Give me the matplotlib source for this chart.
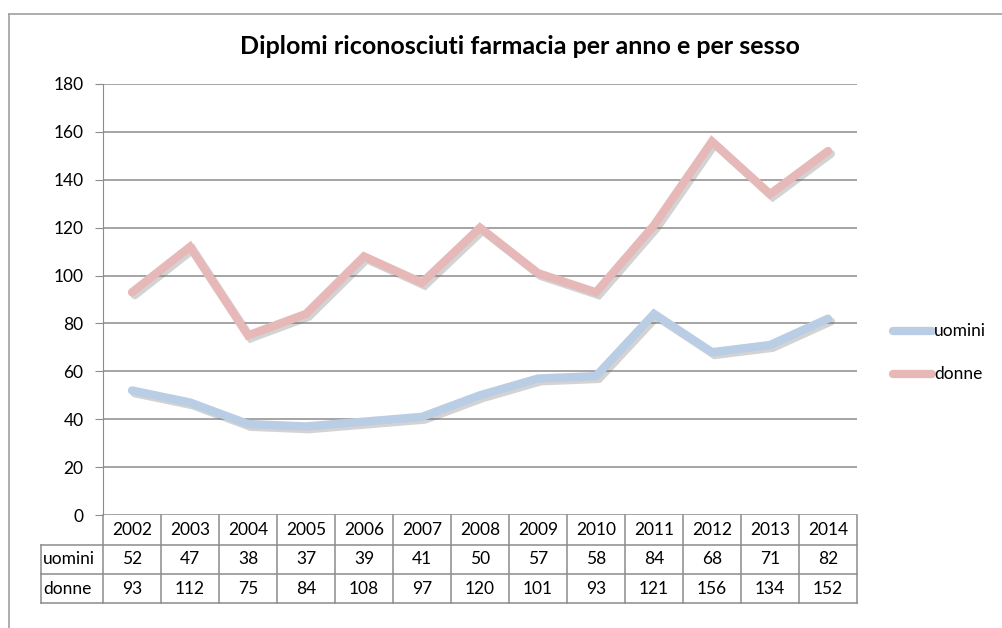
import matplotlib
matplotlib.use("Agg")
import matplotlib.pyplot as plt
import matplotlib.patheffects as pe
from matplotlib.lines import Line2D
from matplotlib.transforms import blended_transform_factory

plt.rcParams["font.family"] = ["Lato", "DejaVu Sans"]

# data
years = [2002, 2003, 2004, 2005, 2006, 2007, 2008, 2009, 2010, 2011, 2012, 2013, 2014]
uomini = [52, 47, 38, 37, 39, 41, 50, 57, 58, 84, 68, 71, 82]
donne = [93, 112, 75, 84, 108, 97, 120, 101, 93, 121, 156, 134, 152]
series_names = ["uomini", "donne"]
yticks = [0, 20, 40, 60, 80, 100, 120, 140, 160, 180]

COL_U = "#B9CDE5"
COL_D = "#E6B9B8"
GRID = "#8C8C8C"
FS = 12.5

W, H = 1003, 628
fig = plt.figure(figsize=(W / 100, H / 100), dpi=100)

# outer chart frame (Excel chart area border)
fig.add_artist(Line2D([9 / W, 9 / W], [0, 1 - 14 / H], color="#A0A0A0", lw=1.2))
fig.add_artist(Line2D([9 / W, 1], [1 - 14 / H, 1 - 14 / H], color="#A0A0A0", lw=1.2))

# plot area in pixels
L, R, T, B = 103, 857, 84, 515
ax = fig.add_axes([L / W, 1 - B / H, (R - L) / W, (B - T) / H])

x = list(range(len(years)))
shadow = [pe.SimpleLineShadow(offset=(2, -2), shadow_color="#707070", alpha=0.3),
          pe.Normal()]
ax.plot(x, uomini, color=COL_U, lw=6, solid_joinstyle="miter", solid_capstyle="round",
        path_effects=shadow, zorder=3)
ax.plot(x, donne, color=COL_D, lw=6, solid_joinstyle="miter", solid_capstyle="round",
        path_effects=shadow, zorder=3)

ax.set_xlim(-0.5, len(years) - 0.5)
ax.set_ylim(0, 180)
ax.set_yticks(yticks)
ax.set_yticklabels([str(v) for v in yticks], fontsize=FS)
ax.set_xticks([])
ax.grid(axis="y", color=GRID, lw=1.1)
ax.set_axisbelow(True)
for s in ["top", "right", "bottom"]:
    ax.spines[s].set_visible(False)
ax.spines["left"].set_color(GRID)
ax.tick_params(axis="y", length=6, color=GRID, pad=8, direction="out")

fig.text(520 / W, 1 - 47 / H, "Diplomi riconosciuti farmacia per anno e per sesso",
         ha="center", va="center", fontsize=18, fontweight="bold")

# data table below the plot area
tr = blended_transform_factory(ax.transData, fig.transFigure)
rows_y = [515, 545, 574, 603]
fy = [1 - v / H for v in rows_y]
lkw = dict(color=GRID, lw=1.1, transform=fig.transFigure, clip_on=False)
# horizontal lines
fig.add_artist(Line2D([41 / W, R / W], [fy[1], fy[1]], **lkw))
fig.add_artist(Line2D([41 / W, R / W], [fy[2], fy[2]], **lkw))
fig.add_artist(Line2D([41 / W, R / W], [fy[3], fy[3]], **lkw))
# vertical lines
fig.add_artist(Line2D([41 / W, 41 / W], [fy[1], fy[3]], **lkw))
for i in range(len(years) + 1):
    xi = i - 0.5
    fig.add_artist(Line2D([xi, xi], [fy[0], fy[3]], color=GRID, lw=1.1, transform=tr))

for i, yr in enumerate(years):
    fig.text(i, (fy[0] + fy[1]) / 2, str(yr), transform=tr, ha="center", va="center", fontsize=FS)
    fig.text(i, (fy[1] + fy[2]) / 2, str(uomini[i]), transform=tr, ha="center", va="center", fontsize=FS)
    fig.text(i, (fy[2] + fy[3]) / 2, str(donne[i]), transform=tr, ha="center", va="center", fontsize=FS)
fig.text(43 / W, (fy[1] + fy[2]) / 2, series_names[0], ha="left", va="center", fontsize=FS)
fig.text(43 / W, (fy[2] + fy[3]) / 2, series_names[1], ha="left", va="center", fontsize=FS)

# legend
for name, col, ypx in [(series_names[0], COL_U, 331), (series_names[1], COL_D, 374)]:
    fig.add_artist(Line2D([893 / W, 932 / W], [1 - ypx / H] * 2, color=col, lw=6,
                          solid_capstyle="round"))
    fig.text(934 / W, 1 - ypx / H, name, ha="left", va="center", fontsize=FS)

fig.savefig("out.png", dpi=100)
